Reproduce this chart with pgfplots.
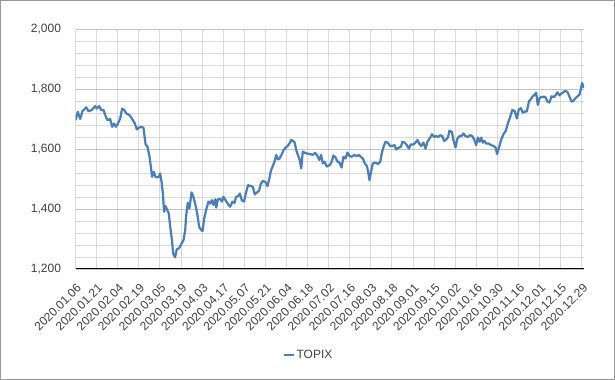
\documentclass[border=0pt]{standalone}
\usepackage{fontspec}
\setmainfont{Liberation Sans}
\usepackage{pgfplots}
\pgfplotsset{compat=1.18}
\definecolor{linecol}{RGB}{74,126,187}
\definecolor{txt}{RGB}{64,64,64}
\definecolor{majgrid}{RGB}{196,196,196}
\definecolor{mingrid}{RGB}{218,218,218}
\begin{document}
\begin{tikzpicture}
\useasboundingbox (0,0) rectangle (615bp,380bp);
\fill[white] (0,0) rectangle (615bp,380bp);
\draw[black!40, line width=1.2bp] (0.6bp,0.6bp) rectangle (614.4bp,379.4bp);
\begin{axis}[
  at={(75.5bp,111bp)}, anchor=south west,
  width=508.5bp, height=239.5bp, scale only axis,
  xmin=0, xmax=241, ymin=1200, ymax=2000,
  axis line style={draw=none},
  xtick={0,10,...,240},
  xticklabels={2020.01.06,2020.01.21,2020.02.04,2020.02.19,2020.03.05,2020.03.19,2020.04.03,2020.04.17,2020.05.07,2020.05.21,2020.06.04,2020.06.18,2020.07.02,2020.07.16,2020.08.03,2020.08.18,2020.09.01,2020.09.15,2020.10.02,2020.10.16,2020.10.30,2020.11.16,2020.12.01,2020.12.15,2020.12.29},
  ytick={1200,1400,1600,1800,2000},
  minor y tick num=4,
  major tick length=0pt, minor tick length=0pt,
  xmajorgrids, ymajorgrids, yminorgrids,
  x grid style={mingrid, line width=1bp},
  major grid style={majgrid, line width=1bp},
  minor grid style={mingrid, line width=1bp},
  /pgf/number format/assume math mode=true,
  /pgf/number format/1000 sep={,},
  scaled y ticks=false,
  tick label style={font=\fontsize{12bp}{14bp}\selectfont, text=txt},
  yticklabel style={xshift=-11bp},
  xticklabel style={yshift=-14bp, xshift=0.5bp, rotate=45, anchor=north east, inner sep=0pt},
  legend style={at={(0.458,-0.359)}, anchor=center, draw=none, fill=none,
    font=\fontsize{12bp}{14bp}\selectfont, text=txt},
  legend image code/.code={\draw[#1] (0bp,0bp) -- (10bp,0bp);},
  clip=true,
]
\addplot[linecol, line width=2.2bp, line join=round] coordinates {
(0,1697) (1.1,1725) (2.2,1701) (3.3,1727) (5.1,1740) (6.2,1727) (7.7,1731) (9.3,1744) (10.1,1736) (11.2,1744) (12.2,1731) (13.3,1731) (14.5,1706) (15.2,1697) (16.4,1701) (17.4,1675) (18.3,1686) (19.1,1675) (19.9,1683) (21.2,1703) (22.1,1736) (23.1,1731) (24.0,1720) (25.6,1714) (26.7,1703) (28.0,1688) (29.1,1666) (30.0,1672) (31.3,1675) (32.2,1672) (33.2,1617) (34.1,1608) (35.1,1575) (35.7,1542) (36.3,1508) (37.0,1525) (37.9,1508) (38.7,1506) (39.5,1508) (40.1,1519) (40.8,1491) (41.4,1453) (42.0,1391) (42.7,1410) (43.3,1400) (44.2,1386) (44.9,1341) (45.7,1297) (46.3,1252) (47.2,1239) (48.0,1266) (49.0,1269) (49.9,1280) (51.2,1297) (52.0,1330) (52.4,1375) (53.2,1421) (54.0,1402) (55.0,1456) (55.9,1441) (57.0,1410) (57.8,1380) (58.6,1341) (59.4,1332) (60.2,1327) (61.0,1369) (61.9,1397) (63.0,1425) (63.8,1419) (64.6,1430) (65.4,1414) (66.2,1433) (66.7,1405) (67.5,1433) (68.6,1434) (69.4,1425) (70.1,1441) (71.4,1427) (72.5,1414) (73.3,1408) (74.4,1425) (75.4,1421) (76.1,1441) (77.1,1444) (77.9,1452) (78.8,1430) (79.9,1425) (80.7,1452) (81.8,1480) (83.1,1477) (84.0,1475) (85.0,1449) (85.9,1455) (87.0,1461) (87.8,1484) (88.8,1494) (89.9,1491) (91.0,1477) (91.9,1503) (92.6,1528) (93.5,1544) (94.3,1558) (95.1,1581) (95.9,1566) (96.7,1569) (97.8,1584) (98.6,1597) (99.5,1605) (100.5,1611) (101.4,1619) (102.2,1631) (103.0,1628) (103.9,1622) (104.6,1597) (105.4,1581) (106.2,1566) (107.0,1536) (107.7,1592) (108.7,1588)
(109.6,1586) (111.2,1584) (112.3,1581) (113.6,1588) (114.7,1577) (115.6,1564) (116.4,1581) (117.2,1553) (118.0,1558) (119.1,1542) (120.4,1547) (121.2,1555) (122.3,1579) (123.2,1573) (124.2,1558) (125.1,1556) (126.1,1539) (127.0,1575) (128.0,1569) (128.9,1589) (129.9,1577) (131.0,1575) (132.1,1581) (133.3,1577) (134.3,1581) (135.2,1575) (136.2,1569) (137.1,1553) (138.1,1544) (138.7,1525) (139.3,1497) (140.1,1525) (140.9,1553) (142.2,1555) (143.4,1551) (144.4,1558) (145.2,1588) (146.0,1608) (146.9,1625) (148.0,1622) (149.1,1611) (150.1,1611) (151.2,1614) (152.0,1599) (153.1,1605) (154.2,1608) (155.0,1625) (156.1,1622) (157.0,1614) (158.0,1602) (158.9,1616) (160.2,1616) (161.1,1622) (162.1,1631) (162.9,1619) (163.8,1611) (164.9,1622) (165.9,1602) (166.8,1625) (168.1,1639) (169.0,1650) (170.0,1641) (170.9,1644) (171.9,1641) (172.8,1647) (173.8,1644) (174.7,1628) (175.7,1633) (176.6,1641) (177.2,1662) (178.4,1658) (179.1,1631) (180.1,1606) (181.0,1636) (182.0,1644) (182.9,1644) (183.9,1653) (184.8,1644) (185.9,1641) (187.0,1647) (188.0,1644) (188.9,1633) (189.9,1614) (190.7,1639) (191.5,1625) (192.3,1639) (193.0,1622) (193.8,1628) (194.6,1619) (195.9,1619) (196.8,1614) (198.1,1611) (199.1,1606) (199.8,1584) (200.8,1608) (201.7,1631) (202.8,1650) (203.9,1661) (204.9,1686) (206.0,1708) (207.0,1731) (208.1,1728) (209.2,1703) (210.1,1733) (211.1,1737) (212.0,1722) (213.0,1726) (213.9,1726) (214.9,1760) (215.8,1767) (216.6,1776) (217.4,1781) (218.3,1789) (219.1,1748) (219.9,1771) (220.8,1774) (221.8,1776) (222.7,1774) (223.7,1759) (224.6,1756) (225.6,1777) (226.5,1774) (227.5,1780) (228.4,1790) (229.4,1780) (230.3,1786) (231.3,1791) (232.2,1795) (233.2,1791) (234.1,1776) (235.1,1759) (236.0,1762) (237.0,1771) (237.9,1776) (238.9,1783) (239.5,1802) (240.1,1821) (241,1805)
};
\addlegendentry{TOPIX}
\draw[black, line width=1.2bp] (rel axis cs:0,0) -- (rel axis cs:1,0);
\end{axis}
\end{tikzpicture}
\end{document}
